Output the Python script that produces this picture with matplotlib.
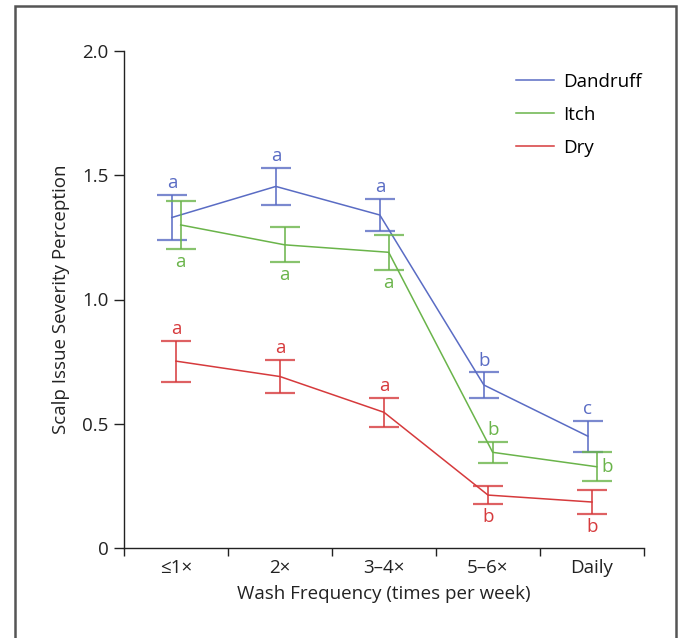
import matplotlib
matplotlib.use("Agg")
import matplotlib.pyplot as plt
import numpy as np
from matplotlib.patches import Rectangle

plt.rcParams['font.family'] = ['Open Sans', 'DejaVu Sans']

categories = ["≤1×", "2×", "3–4×", "5–6×", "Daily"]
dandruff_mean = [1.33, 1.455, 1.34, 0.656, 0.45]
dandruff_err = [0.09, 0.074, 0.064, 0.051, 0.062]
itch_mean = [1.30, 1.22, 1.19, 0.385, 0.327]
itch_err = [0.095, 0.07, 0.07, 0.041, 0.058]
dry_mean = [0.752, 0.69, 0.546, 0.213, 0.185]
dry_err = [0.082, 0.068, 0.059, 0.036, 0.048]
dandruff_letters = ["a", "a", "a", "b", "c"]
itch_letters = ["a", "a", "a", "b", "b"]
dry_letters = ["a", "a", "a", "b", "b"]
# letter placement: 'above', 'below', 'right'
dandruff_pos = ["above"] * 5
itch_pos = ["below", "below", "below", "above", "right"]
dry_pos = ["above", "above", "above", "below", "below"]

series = [
    ("Dandruff", dandruff_mean, dandruff_err, dandruff_letters, dandruff_pos, "#5a6cc4", -0.04),
    ("Itch", itch_mean, itch_err, itch_letters, itch_pos, "#6ab44a", 0.045),
    ("Dry", dry_mean, dry_err, dry_letters, dry_pos, "#d63a3c", 0.0),
]

W, H = 683, 638
fig = plt.figure(figsize=(W / 100, H / 100), dpi=100)
ax = fig.add_axes([124 / W, 1 - 548 / H, (644 - 124) / W, (548 - 51) / H])

FS = 13.5
x = np.arange(len(categories))
for name, m, e, letters, pos, color, off in series:
    xs = x + off
    ax.plot(xs, m, color=color, lw=1.1, label=name)
    ax.errorbar(xs, m, yerr=e, fmt='none', ecolor=color, elinewidth=1.4,
                capsize=11, capthick=1.6, alpha=0.8)
    for xi, mi, ei, lt, p in zip(xs, m, e, letters, pos):
        if p == "above":
            ax.annotate(lt, (xi, mi + ei), xytext=(0, 8.5), textcoords='offset points',
                        ha='center', va='center', color=color, fontsize=FS)
        elif p == "below":
            ax.annotate(lt, (xi, mi - ei), xytext=(0, -9.5), textcoords='offset points',
                        ha='center', va='center', color=color, fontsize=FS)
        else:
            ax.annotate(lt, (xi, mi), xytext=(7.5, 0), textcoords='offset points',
                        ha='center', va='center', color=color, fontsize=FS)

ax.set_xlim(-0.5, len(categories) - 0.5)
ax.set_ylim(0, 2.0)
ax.set_yticks([0, 0.5, 1.0, 1.5, 2.0])
ax.set_yticklabels(["0", "0.5", "1.0", "1.5", "2.0"])
ax.set_xticks(x)
ax.set_xticklabels(categories)
ax.set_xticks(np.arange(-0.5, len(categories)), minor=True)
ax.tick_params(axis='x', which='major', length=0, pad=8, labelsize=FS, labelcolor='#222222')
ax.tick_params(axis='x', which='minor', length=6, width=1, color='#222222')
ax.tick_params(axis='y', length=7, width=1, labelsize=FS, pad=4, color='#222222', labelcolor='#222222')
for s in ['top', 'right']:
    ax.spines[s].set_visible(False)
for s in ['left', 'bottom']:
    ax.spines[s].set_linewidth(1.0)
    ax.spines[s].set_color('#222222')

ax.set_xlabel("Wash Frequency (times per week)", fontsize=FS, labelpad=6, color='#222222')
ax.set_ylabel("Scalp Issue Severity Perception", fontsize=FS, labelpad=9, color='#222222')

ax.legend(loc='upper left', bbox_to_anchor=(516 / W, 1 - 73 / H), bbox_transform=fig.transFigure,
          frameon=False, fontsize=FS, handlelength=2.0, handletextpad=0.5,
          labelspacing=0.8, borderpad=0, borderaxespad=0)

fig.patches.append(Rectangle((14.5 / W, -0.05), (676 - 14.5) / W, 1.05 - 6 / H,
                             transform=fig.transFigure, fill=False,
                             edgecolor='#555555', lw=1.8))

fig.savefig("out.png", dpi=100)
